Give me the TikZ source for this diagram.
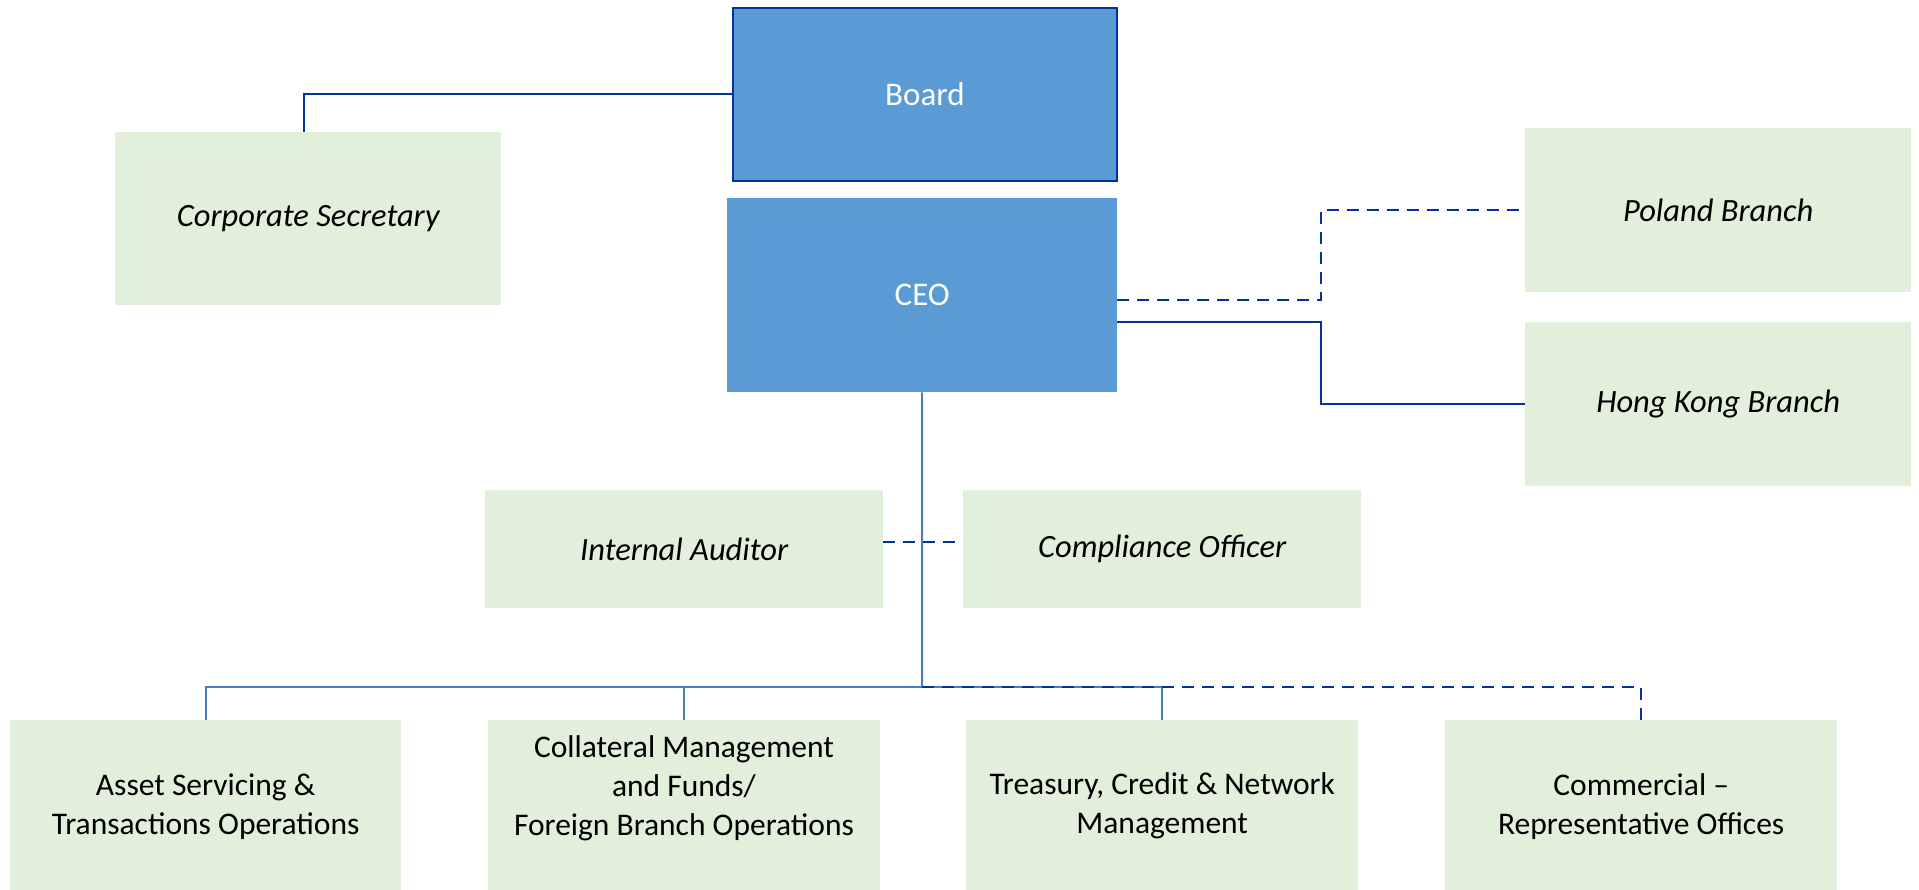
\documentclass[tikz,border=0pt]{standalone}
\usepackage{fontspec}
\setmainfont{Carlito}
\definecolor{boxblue}{HTML}{5B9BD5}
\definecolor{darkline}{HTML}{0033A0}
\definecolor{steelline}{HTML}{4A7EBB}
\definecolor{boxgreen}{HTML}{E2EFDA}
\begin{document}
\begin{tikzpicture}[x=1pt,y=-1pt,
  bluebox/.style={rectangle, fill=boxblue, inner sep=0pt, anchor=north west, text=white, font=\fontsize{33}{38}\selectfont},
  greenbox/.style={rectangle, fill=boxgreen, inner sep=0pt, anchor=north west, font=\fontsize{32.5}{36}\selectfont\itshape, align=center},
  deptbox/.style={rectangle, fill=boxgreen, inner sep=0pt, anchor=north west, font=\fontsize{31.5}{39}\selectfont, align=center},
  depttext/.style={inner sep=0pt, font=\fontsize{31.5}{39}\selectfont, align=center},
  solidlink/.style={draw=darkline, line width=2pt},
  stemlink/.style={draw=steelline, line width=2pt},
  dashlink/.style={draw=darkline, line width=2pt, dash pattern=on 12pt off 8pt},
]
\useasboundingbox (0,0) rectangle (1919,890);

% top level
\node[bluebox, draw=darkline, line width=2pt, minimum width=384pt, minimum height=173pt] (board) at (732,7) {Board};
\node[bluebox, minimum width=390pt, minimum height=194pt] (ceo) at (727,198) {CEO};

\node[greenbox, minimum width=386pt, minimum height=173pt] (cs) at (115,132) {Corporate Secretary};
\node[greenbox, minimum width=386pt, minimum height=164pt] (poland) at (1525,128) {Poland Branch};
\node[greenbox, minimum width=386pt, minimum height=164pt] (hk) at (1525,322) {Hong Kong Branch};

\node[greenbox, minimum width=398pt, minimum height=118pt] (ia) at (485,490) {Internal Auditor};
\node[greenbox, minimum width=398pt, minimum height=118pt] (co) at (963,490) {Compliance Officer};

% departments
\node[deptbox, minimum width=391pt, minimum height=172pt] (asset) at (10,720) {Asset Servicing \&\\Transactions Operations};
\node[deptbox, minimum width=392pt, minimum height=172pt] (coll) at (488,720) {};
\node[depttext] (collt) at (684,788) {Collateral Management\\and Funds/\\Foreign Branch Operations};
\node[deptbox, minimum width=392pt, minimum height=172pt] (treas) at (966,720) {Treasury, Credit \& Network\\Management};
\node[deptbox, minimum width=392pt, minimum height=172pt] (comm) at (1445,720) {Commercial --\\Representative Offices};

% helper coordinates
\coordinate (csTop) at (304,132);
\coordinate (ceoP) at (1117,300);
\coordinate (ceoH) at (1117,322);
\coordinate (busC) at (922,687);

% connectors
\draw[solidlink] (board.west) -| (csTop);
\draw[dashlink] (ceoP) -- (1321,300) |- (poland.west);
\draw[solidlink] (ceoH) -- (1321,322) |- (hk.west);
\draw[stemlink] (ceo.south) -- (busC);
\draw[dashlink] ([yshift=7pt]ia.east) -- ([yshift=7pt]co.west);
\draw[stemlink] (asset.north) |- (busC) -| (treas.north);
\draw[stemlink] (coll.north) -- (coll.north |- busC);
\draw[dashlink] (busC) -| (comm.north);
\end{tikzpicture}
\end{document}
